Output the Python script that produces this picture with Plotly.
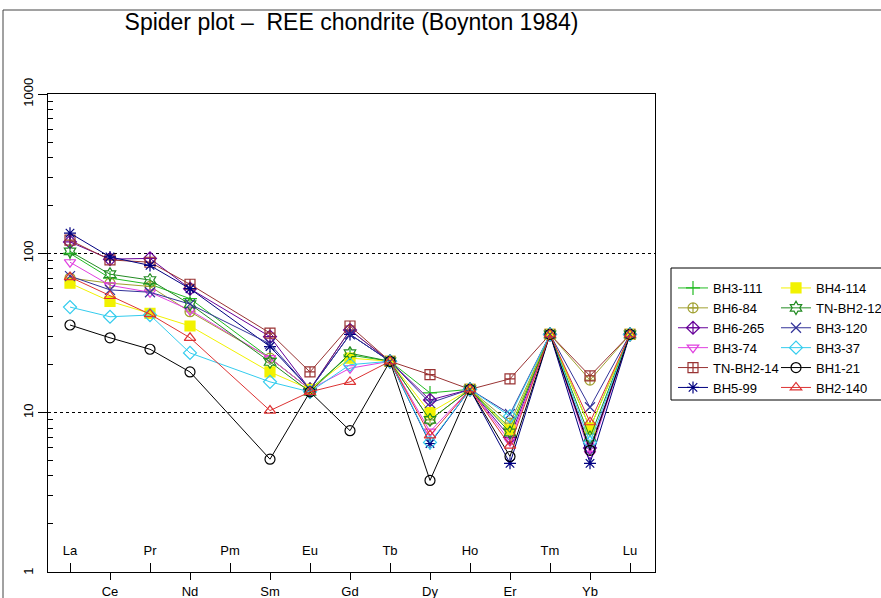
import plotly.graph_objects as go

# REE order along the x axis (Pm is not analysed)
elements = ["La", "Ce", "Pr", "Nd", "Pm", "Sm", "Eu", "Gd", "Tb", "Dy", "Ho", "Er", "Tm", "Yb", "Lu"]

# Chondrite-normalised concentrations (Boynton 1984); None = not determined
BH3_111 = [100, 70, 64, 52, None, 22, 14, 23, 21, 13.3, 14, 8.0, 31, 8.0, 31]
BH6_84 = [70, 65, 62, 43, None, 22, 14, 33, 21, 9.0, 14, 8.6, 31, 16, 31]
BH6_265 = [118, 92, 93, 60, None, 30, 14, 33, 21, 12, 14, 7.0, 31, 6.0, 31]
BH3_74 = [88, 63, 57, 44, None, 22, 14, 19, 21, 7.6, 14, 6.6, 31, 5.5, 31]
TN_BH2_14 = [121, 91, 88, 64, None, 31.6, 18, 35, 21, 17.3, 14, 16.3, 31, 17, 31]
BH5_99 = [134, 95, 84, 60, None, 26, 14, 31, 21, 6.4, 14, 4.8, 31, 4.8, 31]
BH4_114 = [65, 50, 42, 35, None, 18, 14, 22, 21, 10, 14, 7.8, 31, 8.0, 31]
TN_BH2_12 = [103, 74, 68, 48, None, 20.8, 13.5, 23.6, 21, 9.0, 14, 7.5, 31, 7.0, 31]
BH3_120 = [72, 59, 57, 48, None, 27, 14, 31, 21, 11.5, 14, 9.8, 31, 10.8, 31]
BH3_37 = [46, 40, 41, 23.7, None, 15.6, 13.5, 20, 21, 6.5, 14, 9.5, 31, 6.5, 31]
BH1_21 = [35.5, 29.5, 25, 18, None, 5.1, 13.5, 7.7, 21, 3.75, 14, 5.3, 31, 5.8, 31]
BH2_140 = [71, 54, 41.5, 29.5, None, 10.3, 13.5, 15.6, 21, 7.2, 14, 6.2, 31, 8.7, 31]

# y-axis decades and their labels
y_ticks = [1, 10, 100, 1000]
y_labels = ["1", "10", "100", "1000"]

samples = [
    ("BH3-111", BH3_111, "#22bb22", "cross-thin-open", "legend"),
    ("BH6-84", BH6_84, "#a0a030", "circle-cross-open", "legend"),
    ("BH6-265", BH6_265, "#660099", "diamond-cross-open", "legend"),
    ("BH3-74", BH3_74, "#e040e0", "triangle-down-open", "legend"),
    ("TN-BH2-14", TN_BH2_14, "#993333", "square-cross-open", "legend"),
    ("BH5-99", BH5_99, "#000080", "asterisk-open", "legend"),
    ("BH4-114", BH4_114, "#f2f200", "square", "legend2"),
    ("TN-BH2-12", TN_BH2_12, "#228b22", "hexagram-open", "legend2"),
    ("BH3-120", BH3_120, "#333399", "x-thin-open", "legend2"),
    ("BH3-37", BH3_37, "#33ccee", "diamond-open", "legend2"),
    ("BH1-21", BH1_21, "#000000", "circle-open", "legend2"),
    ("BH2-140", BH2_140, "#dd3333", "triangle-up-open", "legend2"),
]

pos = list(range(len(elements)))
FONT = "Liberation Sans, Arial, sans-serif"

fig = go.Figure()
for name, vals, color, symbol, leg in samples:
    fig.add_trace(go.Scatter(
        x=pos, y=vals, name=name, mode="lines+markers", connectgaps=True,
        line=dict(color=color, width=1),
        marker=dict(symbol=symbol, size=10, color=color,
                    line=dict(color=color, width=1.2)),
        legend=leg,
    ))

# plot area in pixels
W, H = 881, 598
L, R, T, B = 48, 655, 94, 572
pw, ph = R - L, B - T


def px(x):
    return (x - L) / pw


def py(y):
    return (B - y) / ph


xr = [-0.55, 14.625]
even = pos[1::2]
odd = pos[0::2]
tickfont = dict(family=FONT, size=13, color="black")

fig.update_layout(
    width=W, height=H,
    margin=dict(l=L, r=W - R, t=T, b=H - B, autoexpand=False),
    paper_bgcolor="white", plot_bgcolor="white",
    font=dict(family=FONT, size=13, color="black"),
    title=dict(text="Spider plot \u2013  REE chondrite (Boynton 1984)",
               x=0.5, xref="paper", xanchor="center",
               y=1 - 22 / H, yref="container", yanchor="middle",
               font=dict(size=23, family=FONT, color="black")),
    xaxis=dict(range=xr, tickvals=even, ticktext=[elements[i] for i in even],
               ticks="outside", ticklen=7, tickcolor="black", tickfont=tickfont,
               showline=True, linecolor="black", linewidth=1, mirror=True,
               showgrid=False, zeroline=False),
    xaxis2=dict(range=xr, overlaying="x", side="bottom", anchor="y",
                tickvals=odd, ticktext=[elements[i] for i in odd],
                ticks="inside", ticklen=9, tickcolor="black", tickfont=tickfont,
                ticklabelposition="inside", ticklabelstandoff=5,
                showline=False, showgrid=False, zeroline=False),
    yaxis=dict(type="log", range=[-0.001, 3.001],
               tickvals=y_ticks, ticktext=y_labels,
               tickangle=-90, ticks="outside", ticklen=9, tickcolor="black",
               tickfont=tickfont,
               showline=True, linecolor="black", linewidth=1, mirror=True,
               showgrid=True, gridcolor="black", griddash="dot", gridwidth=1,
               zeroline=False,
               minor=dict(tickvals=[m * 10 ** k for k in range(3) for m in range(2, 10)],
                          ticks="inside", ticklen=5, tickcolor="black", showgrid=False)),
    legend=dict(x=px(673), y=py(273), xanchor="left", yanchor="top",
                bgcolor="rgba(0,0,0,0)", borderwidth=0, itemwidth=30,
                font=dict(size=13, family=FONT), tracegroupgap=0),
    legend2=dict(x=px(776), y=py(273), xanchor="left", yanchor="top",
                 bgcolor="rgba(0,0,0,0)", borderwidth=0, itemwidth=30,
                 font=dict(size=13, family=FONT), tracegroupgap=0),
    showlegend=True,
    shapes=[
        # legend frame
        dict(type="rect", xref="paper", yref="paper",
             x0=px(671), x1=px(895), y0=py(268), y1=py(400),
             line=dict(color="black", width=1)),
        # outer window frame
        dict(type="line", xref="paper", yref="paper",
             x0=px(3), x1=px(890), y0=py(10), y1=py(10),
             line=dict(color="#444444", width=1)),
        dict(type="line", xref="paper", yref="paper",
             x0=px(3), x1=px(3), y0=py(10), y1=py(610),
             line=dict(color="#444444", width=1)),
    ],
)

# the lowest decade label is suppressed next to the inside x labels, so add it back
fig.add_annotation(text=y_labels[0], x=px(29), xref="paper", y=0, yref="y",
                   textangle=-90, showarrow=False, xanchor="center", yanchor="middle",
                   font=tickfont)

# empty trace so the second x axis is drawn
fig.add_trace(go.Scatter(x=[], y=[], xaxis="x2", yaxis="y", showlegend=False,
                         hoverinfo="skip"))

fig.write_html("out.html")
